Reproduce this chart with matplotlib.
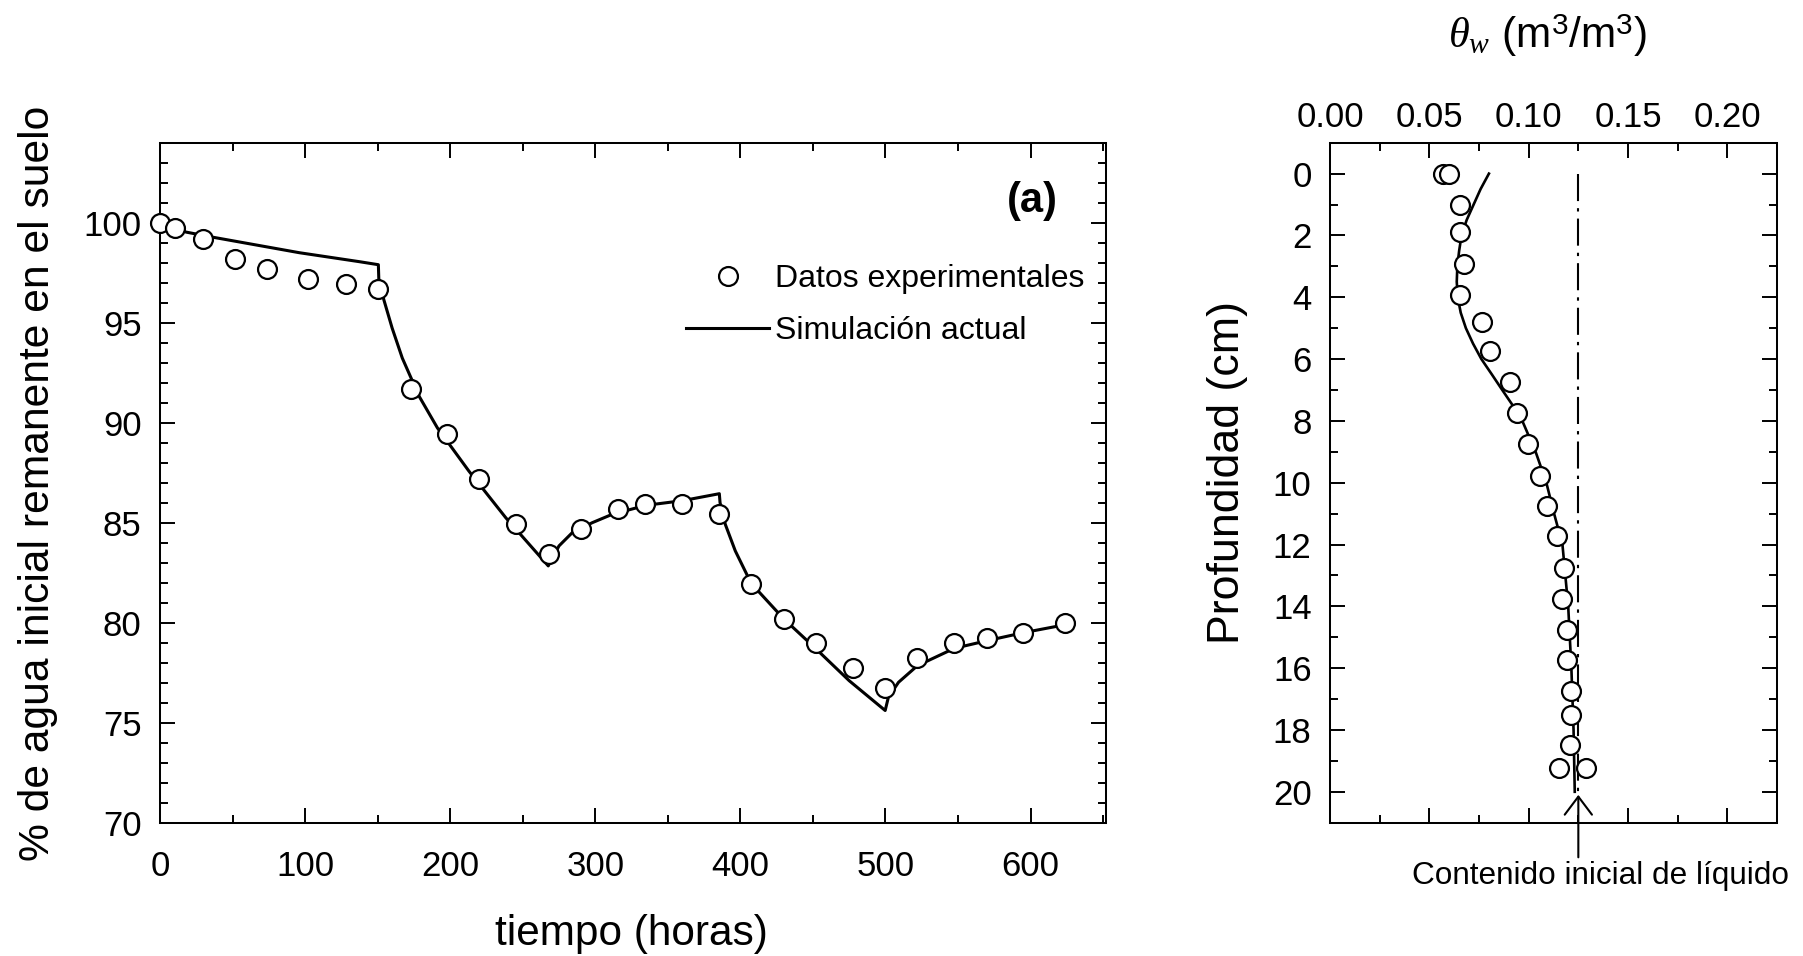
import matplotlib
matplotlib.use('Agg')
import matplotlib.pyplot as plt
from matplotlib.lines import Line2D
from matplotlib.ticker import MultipleLocator, FormatStrFormatter

plt.rcParams['font.family'] = ['Liberation Sans', 'DejaVu Sans']
plt.rcParams['mathtext.fontset'] = 'custom'
plt.rcParams['mathtext.rm'] = 'Liberation Sans'
plt.rcParams['mathtext.it'] = 'Liberation Serif:italic'

# ---------------- data: panel (a) ----------------
t_exp = [0, 10.3, 29.5, 51.7, 73.8, 102.3, 127.9, 150.2, 172.8, 198.0, 220.2, 245.6,
         268.1, 290.3, 315.6, 334.4, 359.7, 385.5, 407.5, 429.8, 451.8, 477.3, 499.8,
         522.0, 547.5, 569.8, 595.0, 623.8]
v_exp = [100.0, 99.72, 99.19, 98.19, 97.69, 97.19, 96.94, 96.69, 91.69, 89.44, 87.20, 84.93,
         83.45, 84.70, 85.70, 85.95, 85.95, 85.45, 81.96, 80.21, 78.97, 77.72, 76.72,
         78.22, 78.97, 79.22, 79.47, 79.97]

t_sim = [0, 10, 18, 36, 96, 137.5, 150.5, 150.8, 154.3, 160, 167, 178.6, 191.2, 212.9,
         238.3, 267.6, 275, 284.1, 297.9, 311.7, 335, 360, 385.5, 386, 389.6, 396.5,
         407.5, 429.8, 452, 475, 499.8, 502, 509, 522, 547.5, 570, 595, 624]
v_sim = [100.0, 99.72, 99.53, 99.28, 98.5, 98.05, 97.9, 97.2, 96.14, 94.73, 93.23, 91.32,
         89.74, 87.58, 85.25, 82.84, 83.84, 84.5, 85.0, 85.42, 85.87, 86.1, 86.45, 86.0,
         84.92, 83.59, 81.96, 80.2, 78.7, 77.1, 75.61, 76.27, 77.02, 77.85, 78.72, 79.1,
         79.5, 79.9]

# ---------------- data: panel (b) ----------------
theta_exp = [0.057, 0.0598, 0.0655, 0.0655, 0.0677, 0.0655, 0.0766, 0.0805, 0.0906, 0.0939,
             0.0998, 0.1056, 0.1091, 0.1141, 0.1178, 0.1170, 0.1192, 0.1192, 0.1212,
             0.1212, 0.1210, 0.1153, 0.1288]
depth_exp = [0.0, 0.0, 1.0, 1.9, 2.93, 3.92, 4.81, 5.75, 6.75, 7.75, 8.74, 9.77, 10.75,
             11.73, 12.75, 13.75, 14.75, 15.74, 16.73, 17.5, 18.49, 19.24, 19.24]

theta_sim = [0.0800, 0.0758, 0.0723, 0.0688, 0.0662, 0.0650, 0.0641, 0.0638, 0.0643,
             0.0658, 0.0684, 0.0720, 0.0762, 0.0815, 0.0867, 0.0920, 0.0968,
             0.1035, 0.1089, 0.1128, 0.1170, 0.1199, 0.1215, 0.1226, 0.1232]
depth_sim = [0, 0.5, 1, 1.5, 2, 2.5, 3, 3.5, 4, 4.5, 5, 5.5, 6, 6.5, 7, 7.5, 8,
             9, 10, 11, 12, 14, 16, 18, 20]

theta_init = 0.125
depth_init = [0, 20]

W, H = 1803, 956
fig = plt.figure(figsize=(W / 100, H / 100), dpi=100)


def fx(px):
    return px / W


def fy(py):
    return 1 - py / H


axa = fig.add_axes([fx(160), fy(822.7), fx(1106) - fx(160), fy(142.7) - fy(822.7)])
axb = fig.add_axes([fx(1330), fy(822.7), fx(1777) - fx(1330), fy(142.7) - fy(822.7)])

for ax in (axa, axb):
    for s in ax.spines.values():
        s.set_linewidth(1.45)
    ax.tick_params(which='both', direction='in', top=True, right=True, width=1.4)
    ax.tick_params(which='major', length=10.8, labelsize=25)
    ax.tick_params(which='minor', length=5.8)

# panel (a)
axa.plot(t_sim, v_sim, color='k', lw=2.2, zorder=2)
axa.plot(t_exp, v_exp, ls='none', marker='o', ms=13.6, mfc='white', mec='k', mew=1.6,
         zorder=3, clip_on=False)
axa.set_xlim(0, 652)
axa.set_ylim(70, 104)
axa.xaxis.set_major_locator(MultipleLocator(100))
axa.xaxis.set_minor_locator(MultipleLocator(50))
axa.yaxis.set_major_locator(MultipleLocator(5))
axa.yaxis.set_minor_locator(MultipleLocator(1))
axa.tick_params(axis='x', which='major', pad=19.5)
axa.tick_params(axis='y', which='major', pad=13.3)

handles = [Line2D([], [], ls='none', marker='o', ms=13.6, mfc='white', mec='k', mew=1.6),
           Line2D([], [], color='k', lw=2.2)]
axa.legend(handles, ['Datos experimentales', 'Simulación actual'], loc='center left',
           bbox_to_anchor=(fx(686), fy(305)), bbox_transform=fig.transFigure,
           frameon=False, fontsize=23, borderpad=0, borderaxespad=0,
           handlelength=2.6, handletextpad=0.2, labelspacing=0.68)

fig.text(fx(1032), fy(201), '(a)', ha='center', va='center', fontsize=30, fontweight='bold')
fig.text(fx(631), fy(945), 'tiempo (horas)', ha='center', va='baseline', fontsize=30.5)
fig.text(fx(38.5), fy(483), '% de agua inicial remanente en el suelo', ha='center',
         va='center', rotation=90, fontsize=30.7)

# panel (b)
axb.plot([theta_init, theta_init], depth_init, color='k', lw=1.5,
         ls=(0, (13, 3.4, 1.6, 3.4)), zorder=1)
axb.plot(theta_sim, depth_sim, color='k', lw=1.9, zorder=2)
axb.plot(theta_exp, depth_exp, ls='none', marker='o', ms=13.6, mfc='white', mec='k',
         mew=1.6, zorder=3)
axb.set_xlim(0, 0.225)
axb.set_ylim(21, -1)
axb.xaxis.set_major_locator(MultipleLocator(0.05))
axb.xaxis.set_minor_locator(MultipleLocator(0.025))
axb.xaxis.set_major_formatter(FormatStrFormatter('%.2f'))
axb.yaxis.set_major_locator(MultipleLocator(2))
axb.yaxis.set_minor_locator(MultipleLocator(1))
axb.tick_params(axis='x', which='both', labeltop=True, labelbottom=False)
axb.tick_params(axis='x', which='major', pad=6)
axb.tick_params(axis='y', which='major', pad=13.3)

axb.annotate('', xy=(theta_init, 20.1), xytext=(theta_init, 22.12),
             arrowprops=dict(arrowstyle='->,head_length=0.65,head_width=0.49',
                             lw=1.5, color='k', shrinkA=0, shrinkB=0,
                             mutation_scale=20),
             annotation_clip=False)
fig.text(fx(1601), fy(876), 'Contenido inicial de líquido', ha='center', va='center',
         fontsize=22.7)

fig.text(fx(1228), fy(472.6), 'Profundidad (cm)', ha='center', va='center', rotation=90,
         fontsize=32.2)
fig.text(fx(1547), fy(48), r'$\theta_w$ (m$^3$/m$^3$)', ha='center', va='baseline',
         fontsize=30.5)

fig.savefig('out.png', dpi=100)
